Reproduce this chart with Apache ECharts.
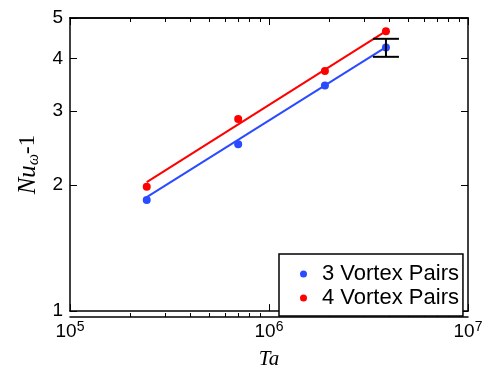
<!DOCTYPE html>
<html>
<head>
<meta charset="utf-8">
<script src="https://cdn.jsdelivr.net/npm/echarts@6/dist/echarts.min.js"></script>
<style>
  html, body { margin: 0; padding: 0; background: #fff; }
  #main { width: 498px; height: 375px; }
</style>
</head>
<body>
<div id="main"></div>
<script>
// Ta values of the measured points
var ta = [2.43e5, 7.0e5, 1.91e6, 3.87e6];
var nu3 = [1.84, 2.50, 3.45, 4.25];
var nu4 = [1.98, 2.87, 3.74, 4.65];
// power-law fit lines (end points)
var fitTa = [2.43e5, 3.87e6];
var fit3 = [1.87, 4.26];
var fit4 = [2.03, 4.65];
// error bar on the last point: [Ta, low, high]
var errBar = [[3.87e6, 4.04, 4.46]];
// tick values
var xMajor = [1e5, 1e6, 1e7];
var xMinor = [2e5, 3e5, 4e5, 5e5, 6e5, 7e5, 8e5, 9e5, 2e6, 3e6, 4e6, 5e6, 6e6, 7e6, 8e6, 9e6];
var yTicks = [1, 2, 3, 4, 5];

var blue = '#2a4bff';
var red = '#ff0000';
var sans = 'Liberation Sans';
var serif = 'Liberation Serif';

function pairs(xs, ys) {
    return xs.map(function (x, i) { return [x, ys[i]]; });
}

var myChart = echarts.init(document.getElementById('main'));

var axisLine = { show: true, lineStyle: { color: '#000', width: 1.5 } };
// two identical grids: the second one only carries the minor x ticks
var plotBox = { left: 70, top: 18, right: 30, bottom: 58, containLabel: false };

function xAx(grid, pos, ticks, len, withLabel) {
    var ax = {
        gridIndex: grid,
        type: 'log', logBase: 10, min: 1e5, max: 1e7, position: pos,
        axisLine: axisLine,
        splitLine: { show: false },
        axisTick: { show: true, inside: true, length: len, customValues: ticks, lineStyle: { color: '#000', width: 1 } },
        axisLabel: { show: false }
    };
    if (withLabel) {
        ax.axisLabel = {
            show: true, customValues: xMajor, margin: 9,
            color: '#000', fontFamily: sans, fontSize: 19, lineHeight: 24,
            formatter: function (v) {
                return '10{sup|' + Math.round(Math.log10(v)) + '}';
            },
            rich: { sup: { fontFamily: sans, fontSize: 14, lineHeight: 4, verticalAlign: 'top', color: '#000' } }
        };
        ax.name = 'Ta';
        ax.nameLocation = 'middle';
        ax.nameGap = 35;
        ax.nameTextStyle = { fontFamily: serif, fontStyle: 'italic', fontSize: 21, color: '#000' };
    }
    return ax;
}

function yAx(grid, pos, withLabel) {
    var ax = {
        gridIndex: grid,
        type: 'log', logBase: 10, min: 1, max: 5, position: pos,
        axisLine: axisLine,
        splitLine: { show: false },
        axisTick: { show: true, inside: true, length: 7, customValues: yTicks, lineStyle: { color: '#000', width: 1 } },
        axisLabel: { show: false }
    };
    if (withLabel) {
        ax.axisLabel = { show: true, customValues: yTicks, margin: 7, color: '#000', fontFamily: sans, fontSize: 19 };
        ax.name = '{n|Nu}{s|ω}{d|-1}';
        ax.nameLocation = 'middle';
        ax.nameGap = 14;
        ax.nameTextStyle = {
            rich: {
                n: { fontFamily: serif, fontStyle: 'italic', fontSize: 25, lineHeight: 27, color: '#000' },
                s: { fontFamily: serif, fontStyle: 'italic', fontSize: 16, lineHeight: 10, verticalAlign: 'bottom', color: '#000' },
                d: { fontFamily: serif, fontSize: 23, lineHeight: 27, color: '#000' }
            }
        };
    }
    return ax;
}

var option = {
    backgroundColor: '#fff',
    animation: false,
    grid: [plotBox, plotBox],
    legend: {
        orient: 'vertical',
        left: 279, top: 254,
        padding: [8, 4, 6, 21],
        itemGap: 0,
        itemWidth: 7, itemHeight: 7,
        icon: 'circle',
        borderColor: '#000', borderWidth: 1.5,
        backgroundColor: '#fff',
        data: ['3 Vortex Pairs', '4 Vortex Pairs'],
        textStyle: { fontFamily: sans, fontSize: 22, lineHeight: 24, color: '#000', padding: [0, 0, 0, 10] }
    },
    xAxis: [
        xAx(0, 'bottom', xMajor, 7, true),
        xAx(0, 'top', xMajor, 7, false),
        xAx(1, 'bottom', xMinor, 4, false),
        xAx(1, 'top', xMinor, 4, false)
    ],
    yAxis: [
        yAx(0, 'left', true),
        yAx(0, 'right', false),
        { gridIndex: 1, type: 'log', min: 1, max: 5, show: false }
    ],
    series: [
        {
            name: '3 Vortex Pairs fit', type: 'line', showSymbol: false, z: 2,
            lineStyle: { color: blue, width: 2 }, itemStyle: { color: blue },
            data: pairs(fitTa, fit3)
        },
        {
            name: '4 Vortex Pairs fit', type: 'line', showSymbol: false, z: 2,
            lineStyle: { color: red, width: 2 }, itemStyle: { color: red },
            data: pairs(fitTa, fit4)
        },
        {
            name: '3 Vortex Pairs', type: 'scatter', symbolSize: 8, z: 3,
            itemStyle: { color: blue, opacity: 1 },
            data: pairs(ta, nu3)
        },
        {
            name: '4 Vortex Pairs', type: 'scatter', symbolSize: 8, z: 3,
            itemStyle: { color: red, opacity: 1 },
            data: pairs(ta, nu4)
        },
        {
            name: 'error', type: 'custom', z: 4,
            renderItem: function (params, api) {
                var lo = api.coord([api.value(0), api.value(1)]);
                var hi = api.coord([api.value(0), api.value(2)]);
                var w = 13;
                var st = { stroke: '#000', lineWidth: 2 };
                return {
                    type: 'group',
                    children: [
                        { type: 'line', shape: { x1: lo[0], y1: lo[1], x2: hi[0], y2: hi[1] }, style: st },
                        { type: 'line', shape: { x1: lo[0] - w, y1: lo[1], x2: lo[0] + w, y2: lo[1] }, style: st },
                        { type: 'line', shape: { x1: hi[0] - w, y1: hi[1], x2: hi[0] + w, y2: hi[1] }, style: st }
                    ]
                };
            },
            encode: { x: 0, y: [1, 2] },
            data: errBar
        }
    ]
};

myChart.setOption(option);
window.addEventListener('resize', function () {
    myChart.resize();
});
</script>
</body>
</html>
